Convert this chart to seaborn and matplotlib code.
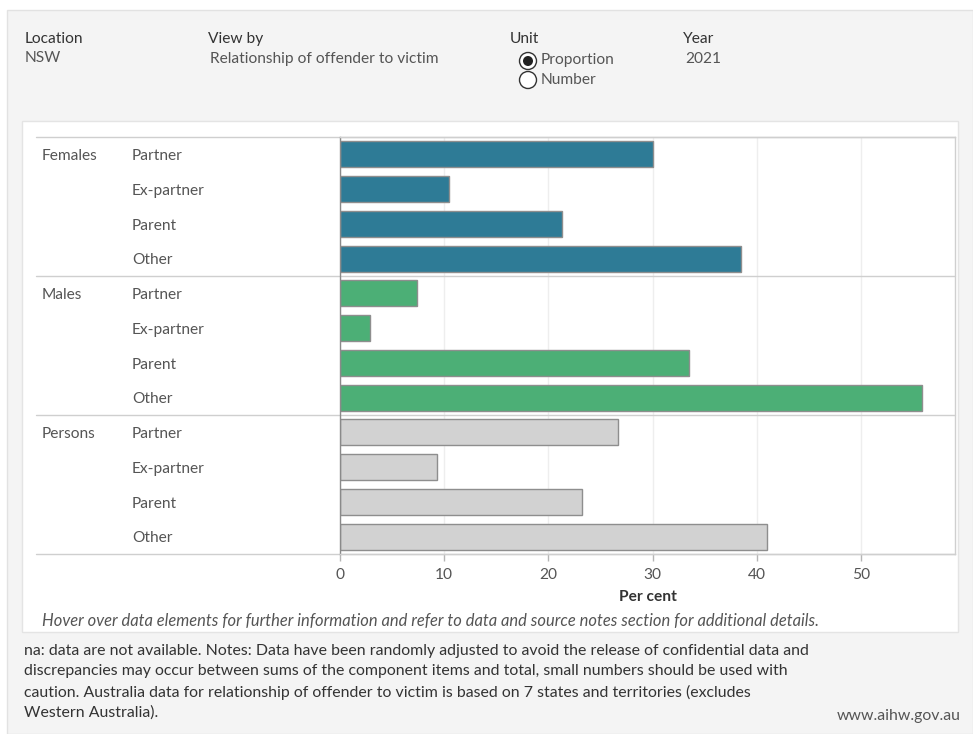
import matplotlib
matplotlib.use("Agg")
import matplotlib.pyplot as plt
from matplotlib.patches import Rectangle, Circle
from matplotlib.transforms import blended_transform_factory
import pandas as pd
import seaborn as sns

# values (per cent, NSW 2021)
sexes = ["Females", "Males", "Persons"]
relations = ["Partner", "Ex-partner", "Parent", "Other"]
females = [30.0, 10.5, 21.3, 38.5]
males = [7.4, 2.9, 33.5, 55.8]
persons = [26.7, 9.3, 23.2, 41.0]
ticks = [0, 10, 20, 30, 40, 50]

colours = {"Females": "#2e7b96", "Males": "#4caf76", "Persons": "#d2d2d2"}

rows = []
for sex, vals in zip(sexes, [females, males, persons]):
    for rel, v in zip(relations, vals):
        rows.append({"sex": sex, "relation": rel, "key": sex + " " + rel, "value": v})
df = pd.DataFrame(rows)

sns.set_style("white")
plt.rcParams["font.family"] = ["Lato", "DejaVu Sans"]

W, H = 973, 734
FS = 11.2
fig = plt.figure(figsize=(W / 100, H / 100), dpi=100)

# background layer in pixel units
bg = fig.add_axes([0, 0, 1, 1])
bg.set_xlim(0, W)
bg.set_ylim(H, 0)
bg.axis("off")
bg.add_patch(Rectangle((7, 10), W - 7, H - 10, facecolor="#f4f4f4", edgecolor="#e2e2e2", lw=1))
bg.add_patch(Rectangle((22, 121), 936, 511, facecolor="white", edgecolor="#e4e4e4", lw=1))

# header filters
dark = "#333333"
mid = "#555555"
bg.text(25, 39, "Location", fontsize=FS, color=dark, va="center")
bg.text(25, 58, "NSW", fontsize=FS, color=mid, va="center")
bg.text(208, 39, "View by", fontsize=FS, color=dark, va="center")
bg.text(210, 59, "Relationship of offender to victim", fontsize=FS, color=mid, va="center")
bg.text(510, 39, "Unit", fontsize=FS, color=dark, va="center")
bg.add_patch(Circle((528, 61), 8.5, facecolor="white", edgecolor="#333333", lw=1))
bg.add_patch(Circle((528, 61), 5, facecolor="#222222", edgecolor="none"))
bg.add_patch(Circle((528, 80), 8.5, facecolor="white", edgecolor="#333333", lw=1))
bg.text(541, 60, "Proportion", fontsize=FS, color=mid, va="center")
bg.text(541, 80, "Number", fontsize=FS, color=mid, va="center")
bg.text(683, 39, "Year", fontsize=FS, color=dark, va="center")
bg.text(685, 59, "2021", fontsize=FS, color=mid, va="center")


def frac(x0, y0, x1, y1):
    return [x0 / W, 1 - y1 / H, (x1 - x0) / W, (y1 - y0) / H]


ax = fig.add_axes(frac(340, 137, 955, 554))
sns.barplot(data=df, y="key", x="value", hue="sex", order=list(df["key"]),
            palette=colours, saturation=1, dodge=False, width=0.75,
            edgecolor="#8e8e8e", linewidth=1, ax=ax, legend=False)
ax.set_ylim(11.5, -0.5)
ax.set_xlim(0, 59)
ax.set_xticks(ticks)
ax.set_yticks([])
ax.set_ylabel("")
ax.set_xlabel("Per cent", fontsize=FS, fontweight="bold", color=dark, labelpad=6)
ax.tick_params(axis="x", direction="out", length=5, width=1, color="#b5b5b5",
               labelsize=FS, labelcolor=mid, pad=5, bottom=True)
ax.grid(axis="x", color="#eeeeee", lw=1)
ax.set_axisbelow(True)
for side in ["top", "right", "bottom"]:
    ax.spines[side].set_color("#cfcfcf")
    ax.spines[side].set_linewidth(1)
ax.spines["left"].set_color("#8a8a8a")
ax.spines["left"].set_linewidth(1)

# pane separators reaching into the label columns
left = (36 - 340) / (955 - 340)
for yb in [-0.5, 3.5, 7.5, 11.5]:
    ax.axhline(yb, xmin=left, xmax=1, color="#cfcfcf", lw=1, clip_on=False)

trans = blended_transform_factory(bg.transData, ax.transData)
for i, r in df.iterrows():
    ax.text(132, i + 0.05, r["relation"], transform=trans, fontsize=FS, color=mid, va="center")
    if r["relation"] == relations[0]:
        ax.text(42, i + 0.05, r["sex"], transform=trans, fontsize=FS, color=mid, va="center")

bg.text(42, 621, "Hover over data elements for further information and refer to data and source notes section for additional details.",
        fontsize=11.9, style="italic", color=mid, va="center")

notes = [
    "na: data are not available. Notes: Data have been randomly adjusted to avoid the release of confidential data and",
    "discrepancies may occur between sums of the component items and total, small numbers should be used with",
    "caution. Australia data for relationship of offender to victim is based on 7 states and territories (excludes",
    "Western Australia).",
]
for k, line in enumerate(notes):
    bg.text(24, 651 + 20.5 * k, line, fontsize=11.4, color=dark, va="center")
bg.text(961, 716, "www.aihw.gov.au", fontsize=11.4, color=mid, va="center", ha="right")

fig.savefig("out.png", dpi=100, facecolor="white")
